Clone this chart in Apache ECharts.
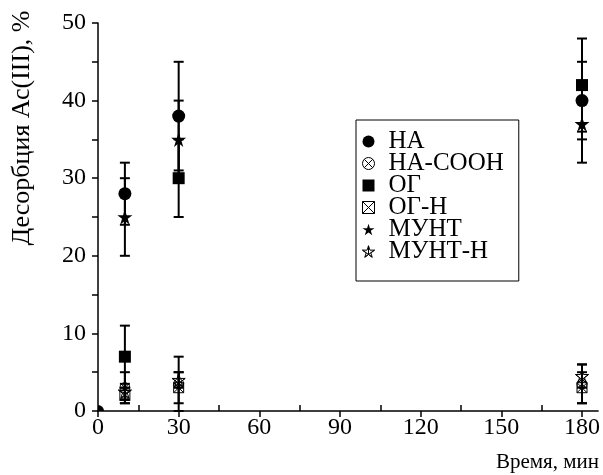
<!DOCTYPE html>
<html><head><meta charset="utf-8">
<script src="https://cdn.jsdelivr.net/npm/echarts@6/dist/echarts.min.js"></script>
<style>html,body{margin:0;padding:0;background:#fff}#c{width:603px;height:475px}</style>
</head><body><div id="c"></div>
<script>
// ---- data ----
const times = [10, 30, 180];
const xTicks = [0, 30, 60, 90, 120, 150, 180];
const xMinorTicks = [15, 45, 75, 105, 135, 165];
const seriesNames = ['НА', 'НА-СООН', 'ОГ', 'ОГ-Н', 'МУНТ', 'МУНТ-Н'];
const valNA = [28, 38, 40];
const errNA = [4, 7, 5];
const valNACOOH = [3, 3.5, 3.5];
const errNACOOH = [2, 3.5, 2.5];
const valOG = [7, 30, 42];
const errOG = [4, 5, 6];
const valOGH = [2, 3, 3];
const errOGH = [1, 2, 2];
const valMUNT = [25, 35, 37];
const errMUNT = [5, 5, 5];
const valMUNTH = [2.5, 4, 4.5];
const errMUNTH = [1, 1, 1.5];
const originPoint = [0, 0];
const xAxisTitle = 'Время, мин';
const yAxisTitle = 'Десорбция Ас(III), %';

const FONT = '"Liberation Serif", "Times New Roman", serif';
const STAR = 'path://M0,-100L22.45,-30.9L95.1,-30.9L36.3,11.8L58.8,80.9L0,38.2L-58.8,80.9L-36.3,11.8L-95.1,-30.9L-22.45,-30.9Z';
const CIRCLEX = 'path://M0,-50A50,50,0,1,1,0,50A50,50,0,1,1,0,-50Z M-35,-35L35,35 M35,-35L-35,35';
const RECTX = 'path://M-50,-50L50,-50L50,50L-50,50Z M-50,-50L50,50 M50,-50L-50,50';
const STARX = 'path://M0,-100L22.45,-30.9L95.1,-30.9L36.3,11.8L58.8,80.9L0,38.2L-58.8,80.9L-36.3,11.8L-95.1,-30.9L-22.45,-30.9Z M0,-100L0,38.2 M-95.1,-30.9L58.8,80.9 M95.1,-30.9L-58.8,80.9';

const defs = [
  {name: seriesNames[0], v: valNA, e: errNA, symbol: 'circle', size: 13, fill: '#000'},
  {name: seriesNames[1], v: valNACOOH, e: errNACOOH, symbol: CIRCLEX, size: 10, fill: 'rgba(255,255,255,0)'},
  {name: seriesNames[2], v: valOG, e: errOG, symbol: 'rect', size: 12, fill: '#000'},
  {name: seriesNames[3], v: valOGH, e: errOGH, symbol: RECTX, size: 10, fill: 'rgba(255,255,255,0)'},
  {name: seriesNames[4], v: valMUNT, e: errMUNT, symbol: STAR, size: 15, fill: '#000'},
  {name: seriesNames[5], v: valMUNTH, e: errMUNTH, symbol: STARX, size: 13, fill: 'rgba(255,255,255,0)'}
];

const series = [];
defs.forEach(function (d) {
  const errData = times.map(function (t, i) { return [t, d.v[i] - d.e[i], d.v[i] + d.e[i]]; });
  series.push({
    type: 'custom', name: 'err-' + d.name, z: 2, silent: true,
    data: errData,
    renderItem: function (params, api) {
      const x = api.value(0);
      const lo = api.coord([x, api.value(1)]);
      const hi = api.coord([x, api.value(2)]);
      const cw = 5;
      const st = {stroke: '#000', lineWidth: 2};
      return {type: 'group', children: [
        {type: 'line', shape: {x1: lo[0], y1: lo[1], x2: hi[0], y2: hi[1]}, style: st},
        {type: 'line', shape: {x1: lo[0] - cw, y1: lo[1], x2: lo[0] + cw, y2: lo[1]}, style: st},
        {type: 'line', shape: {x1: hi[0] - cw, y1: hi[1], x2: hi[0] + cw, y2: hi[1]}, style: st}
      ]};
    }
  });
  series.push({
    type: 'scatter', name: d.name, z: 5,
    symbol: d.symbol, symbolSize: d.size,
    itemStyle: {color: d.fill, borderColor: '#000', borderWidth: d.fill === '#000' ? 0 : 1, opacity: 1},
    data: times.map(function (t, i) { return [t, d.v[i]]; })
  });
});
// origin point, clipped by the axes
series.push({
  type: 'custom', name: 'origin', z: 5, clip: true, silent: true,
  data: [originPoint],
  renderItem: function (params, api) {
    const p = api.coord([api.value(0), api.value(1)]);
    return {type: 'circle', shape: {cx: p[0], cy: p[1], r: 6}, style: {fill: '#000'}};
  }
});

const chart = echarts.init(document.getElementById('c'), null, {renderer: 'canvas'});
chart.setOption({
  animation: false,
  backgroundColor: '#fff',
  textStyle: {fontFamily: FONT, color: '#000'},
  grid: {left: 98, right: 2, top: 23, bottom: 64, containLabel: false},
  legend: {
    orient: 'vertical', left: 356, top: 120,
    data: defs.map(function (d) {
      return {name: d.name, icon: d.symbol,
        itemStyle: {color: d.fill, borderColor: '#000', borderWidth: d.fill === '#000' ? 0 : 1}};
    }),
    itemWidth: 12, itemHeight: 12, itemGap: -3,
    padding: [9, 15, 17, 6],
    borderColor: '#000', borderWidth: 1,
    textStyle: {fontFamily: FONT, fontSize: 25, color: '#000', lineHeight: 25, padding: [0, 0, 0, 9]},
    selectedMode: false
  },
  xAxis: [{
    type: 'value', min: 0, max: 186,
    axisLine: {lineStyle: {color: '#000', width: 1.5}},
    axisTick: {customValues: xTicks, length: 6, lineStyle: {color: '#000', width: 1.5}},
    axisLabel: {customValues: xTicks, fontFamily: FONT, fontSize: 24, color: '#000', margin: 5},
    splitLine: {show: false}
  }, {
    type: 'value', min: 0, max: 186, position: 'bottom',
    axisLine: {show: false},
    axisTick: {customValues: xMinorTicks, inside: true, length: 6, lineStyle: {color: '#000', width: 1.5}},
    axisLabel: {show: false},
    splitLine: {show: false}
  }],
  yAxis: {
    type: 'value', min: 0, max: 50, interval: 10,
    axisLine: {show: true, lineStyle: {color: '#000', width: 1.5}},
    axisTick: {length: 6, lineStyle: {color: '#000', width: 1.5}},
    minorTick: {show: true, splitNumber: 2, length: 6, lineStyle: {color: '#000', width: 1.5}},
    axisLabel: {fontFamily: FONT, fontSize: 24, color: '#000', margin: 12},
    splitLine: {show: false}
  },
  graphic: [
    {type: 'text', silent: true, x: 22, y: 128, rotation: Math.PI / 2,
     style: {text: yAxisTitle, font: '26px ' + FONT, fill: '#000', textAlign: 'center', textVerticalAlign: 'middle'}},
    {type: 'text', silent: true, right: 4, top: 452,
     style: {text: xAxisTitle, font: '21px ' + FONT, fill: '#000'}}
  ],
  series: series
});
</script></body></html>
